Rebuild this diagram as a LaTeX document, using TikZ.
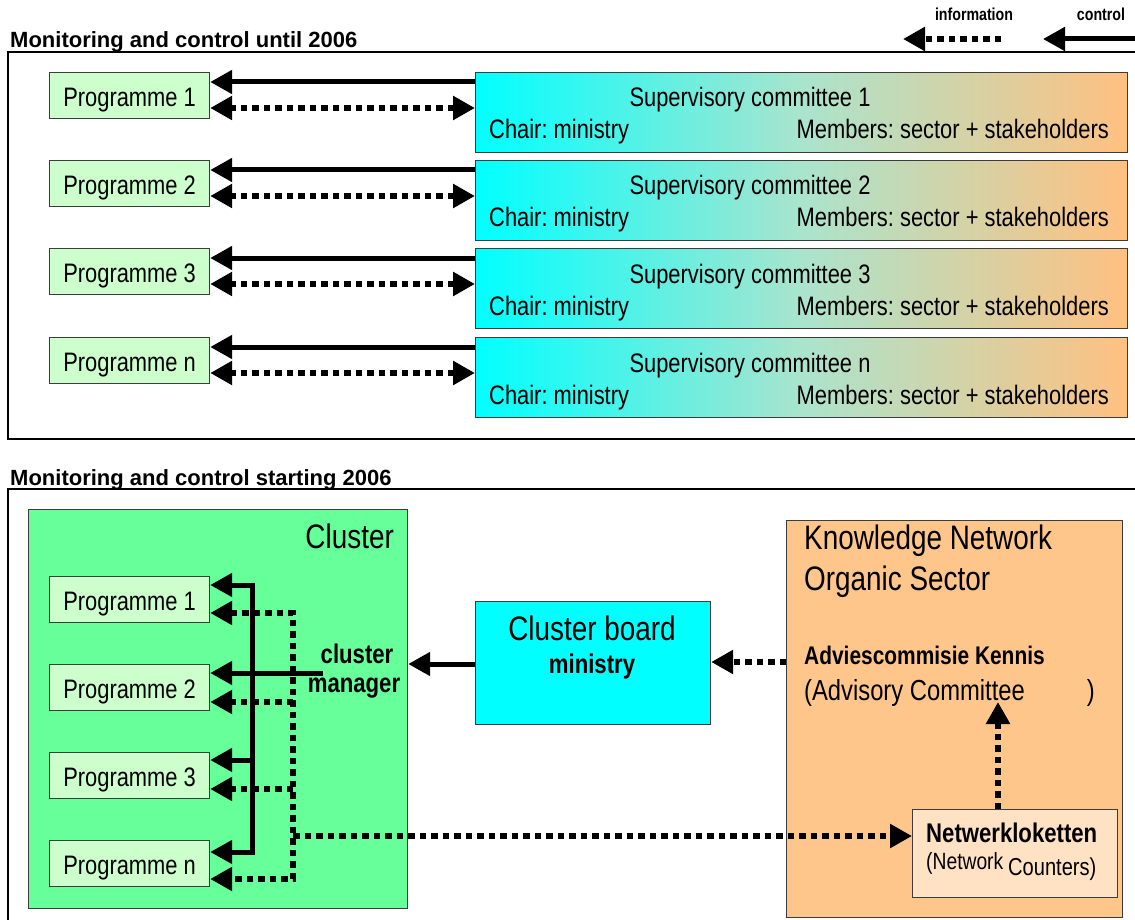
\documentclass[tikz,border=0pt]{standalone}
\usepackage{fontspec}
\setmainfont{Liberation Sans}[FakeStretch=0.82]
\newfontfamily\titlefont{Liberation Sans}
\usetikzlibrary{arrows.meta,calc}
\newcommand\fsz[1]{\fontsize{#1pt}{#1pt}\selectfont}
\definecolor{progc}{RGB}{204,255,204}
\definecolor{clusterc}{RGB}{102,255,153}
\definecolor{knc}{RGB}{255,198,140}
\definecolor{nwc}{RGB}{255,225,195}
\definecolor{peach}{RGB}{255,192,128}
\definecolor{midc}{RGB}{170,228,205}
\definecolor{cyanc}{RGB}{0,255,255}
\definecolor{edgec}{RGB}{60,60,60}
\frenchspacing
\begin{document}
\begin{tikzpicture}[x=1pt,y=-1pt,
  >={Triangle[length=22pt,width=23pt]},
  ctrl/.style={line width=5pt},
  info/.style={line width=5.5pt,dash pattern=on 6.5pt off 5pt},
  frame/.style={line width=1.6pt},
  box/.style={draw=edgec,line width=1.2pt,inner sep=0pt,anchor=north west},
  prog/.style={box,fill=progc,minimum width=160pt,minimum height=46pt,font=\fsz{26.7},text height=21pt,text depth=0pt},
  sup/.style={box,left color=cyanc,right color=peach,middle color=midc,minimum width=652pt,minimum height=80pt},
  txt/.style={inner sep=0pt,font=\fsz{26.7}},
  big/.style={inner sep=0pt,font=\fsz{34}},
  bld/.style={inner sep=0pt,font=\fsz{27}\bfseries},
  ttl/.style={inner sep=0pt,anchor=base west,font=\titlefont\fsz{22}\bfseries},
  leg/.style={inner sep=0pt,anchor=base,font=\fsz{17.3}\bfseries},
]
\useasboundingbox (0,0) rectangle (1135,920);
\clip (0,0) rectangle (1135,920);
\fill[white] (0,0) rectangle (1135,920);

% legend
\node[leg] (infol) at (974,21) {information};
\node[leg] (ctrll) at (1101,21) {control};
\coordinate (infoA) at (1001,39);
\coordinate (infoB) at (903,39);
\draw[info,->] (infoA) -- (infoB);
\coordinate (ctrlA) at (1140,39);
\coordinate (ctrlB) at (1043,39);
\draw[ctrl,->] (ctrlA) -- (ctrlB);

% top section
\node[ttl] (title1) at (10,48) {Monitoring and control until 2006};
\draw[frame] (1140,52) -- (8,52) -- (8,439) -- (1140,439);
\foreach \i/\y/\l in {1/72/1,2/160/2,3/248/3,4/337/n}{
  \node[prog] (p\i) at (49,\y) {Programme \l};
  \node[sup] (s\i) at (475,\y) {};
  \node[txt,anchor=base] (st\i) at (750,\y+35) {Supervisory committee \l};
  \node[txt,anchor=base west] (sc\i) at (489,\y+67) {Chair: ministry};
  \node[txt,anchor=base east] (sm\i) at (1109,\y+67) {Members: sector + stakeholders};
  \coordinate (sa\i) at ([yshift=-10pt]s\i.north west);
  \coordinate (sb\i) at ([yshift=-36pt]s\i.north west);
  \draw[ctrl,->] (sa\i) -- (sa\i -| p\i.east);
  \draw[info,<->] (sb\i) -- (sb\i -| p\i.east);
}

% bottom section
\node[ttl] (title2) at (10,485) {Monitoring and control starting 2006};
\draw[frame] (1140,489) -- (8,489) -- (8,925);
\node[box,fill=clusterc,minimum width=379pt,minimum height=399pt] (cl) at (28,509) {};
\node[big,anchor=base east] (cllbl) at (394,548) {Cluster};
\foreach \i/\y/\l in {1/576/1,2/664/2,3/752/3,4/840/n}{
  \node[prog] (q\i) at (49,\y) {Programme \l};
}
\node[bld,anchor=base] (cm1) at (357,663) {cluster};
\node[bld,anchor=base] (cm2) at (354,692) {manager};

\node[box,fill=cyanc,minimum width=235pt,minimum height=123pt] (cb) at (475,601) {};
\node[big,anchor=base] (cbt) at (592,640) {Cluster board};
\node[bld,anchor=base] (cbm) at (592,673) {ministry};

\node[box,fill=knc,minimum width=336pt,minimum height=397pt] (kn) at (786,520) {};
\node[big,anchor=base west] (kn1) at (804,549) {Knowledge Network};
\node[big,anchor=base west] (kn2) at (804,590) {Organic Sector};
\node[inner sep=0pt,font=\fsz{25.5}\bfseries,anchor=base west] (adv1) at (804,664) {Adviescommisie Kennis};
\node[inner sep=0pt,font=\fsz{29},anchor=base west] (adv2) at (804,700) {(Advisory Committee\hspace*{62pt})};

\node[box,fill=nwc,minimum width=205pt,minimum height=88pt] (nw) at (912,809) {};
\node[bld,anchor=base west] (nw1) at (926,842) {Netwerkloketten};
\node[inner sep=0pt,font=\fsz{23.5},anchor=base west] (nw2) at (926,869) {(Network};
\node[inner sep=0pt,font=\fsz{24.5},anchor=base west] (nw3) at (1008,875) {Counters)};

% control tree
\coordinate (cv1) at (252,585);
\coordinate (cv3) at (252,760);
\coordinate (cv4) at (252,852);
\coordinate (cmx) at (323,673);
\draw[ctrl,<->] (cv1 -| q1.east) -- (cv1) -- (cv4) -- (cv4 -| q4.east);
\draw[ctrl,->] (cv3) -- (cv3 -| q3.east);
\draw[ctrl,->] (cmx) -- (cmx -| q2.east);

% information tree
\coordinate (dv1) at (293,613);
\coordinate (dv2) at (293,702);
\coordinate (dv3) at (293,789);
\coordinate (dv4) at (293,879);
\coordinate (dvn) at (293,836);
\draw[info,<->] (dv1 -| q1.east) -- (dv1) -- (dv4) -- (dv4 -| q4.east);
\draw[info,->] (dv2) -- (dv2 -| q2.east);
\draw[info,->] (dv3) -- (dv3 -| q3.east);
\draw[info,->] (dvn) -- (dvn -| nw.west);

% board connections
\coordinate (cba) at ([yshift=-63pt]cb.north west);
\draw[ctrl,->] (cba) -- (cba -| cl.east);
\coordinate (kna) at ([yshift=-142pt]kn.north west);
\draw[info,->] (kna) -- (kna -| cb.east);
\coordinate (advtip) at (998,702);
\draw[info,->] (advtip |- nw.north) -- (advtip);
\end{tikzpicture}
\end{document}
